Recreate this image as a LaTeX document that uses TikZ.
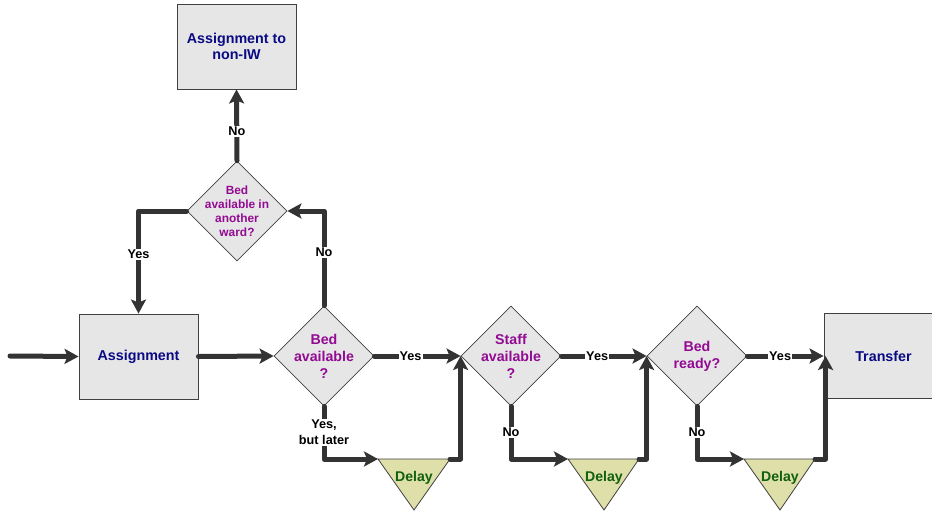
\documentclass[tikz,border=0pt]{standalone}
\usepackage{fontspec}
\setmainfont{Liberation Sans}
\usetikzlibrary{shapes.geometric,arrows.meta}
\definecolor{flowline}{HTML}{333333}
\definecolor{boxedge}{HTML}{404040}
\definecolor{boxfill}{HTML}{E6E6E6}
\definecolor{boxtext}{HTML}{0A0A85}
\definecolor{qcolor}{HTML}{930A93}
\definecolor{delayfill}{HTML}{DFDFA9}
\definecolor{delaytext}{HTML}{0F600F}
\begin{document}
\begin{tikzpicture}[x=1pt,y=-1pt,
  box/.style={draw=boxedge, line width=0.9pt, fill=boxfill, minimum width=119pt,
    minimum height=85pt, inner sep=0pt, text=boxtext, align=center,
    font=\bfseries\fontsize{14.3}{16.7}\selectfont},
  decision/.style={diamond, shape aspect=1, draw=boxedge, line width=0.8pt,
    fill=boxfill, minimum width=100pt, minimum height=100pt, inner sep=0pt},
  qtext/.style={text=qcolor, align=center, inner sep=0pt,
    font=\bfseries\fontsize{14.2}{17}\selectfont},
  qsmall/.style={text=qcolor, align=center, inner sep=0pt,
    font=\bfseries\fontsize{11.9}{14}\selectfont},
  flow/.style={draw=flowline, line width=5pt, line join=round, line cap=round,
    -{Stealth[length=14pt,width=15pt,inset=3pt,sharp]}},
  lbl/.style={fill=white, inner sep=1pt, text=black, align=center,
    font=\bfseries\fontsize{12.7}{16}\selectfont},
  delaytri/.style={draw=boxedge, line width=0.8pt, fill=delayfill, line join=miter},
  delaylbl/.style={text=delaytext, inner sep=0pt,
    font=\bfseries\fontsize{14.1}{16}\selectfont}
]
\useasboundingbox (0,0) rectangle (932,515);

% process boxes
\node[box] (nonIW) at (236.5,46.5) {Assignment to\\non-IW};
\node[box] (asg) at (138.5,356.5) {Assignment};
\node[box] (trans) at (883.5,356) {Transfer};

% decisions
\node[decision, label={[qsmall]center:Bed\\available in\\another\\ward?}] (aw) at (237,211) {};
\node[decision, label={[qtext]center:Bed\\available\\?}] (ba) at (324,356) {};
\node[decision, label={[qtext]center:Staff\\available\\?}] (sa) at (511,356) {};
\node[decision, label={[qtext]center:Bed\\ready?}] (br) at (697,356) {};

% delay triangles
\coordinate (d1l) at (378,459); \coordinate (d1r) at (450,459); \coordinate (d1b) at (414,510);
\coordinate (d2l) at (568,459); \coordinate (d2r) at (639,459); \coordinate (d2b) at (604,510);
\coordinate (d3l) at (744,459); \coordinate (d3r) at (815,459); \coordinate (d3b) at (780,510);
\path[delaytri] (d1l) -- (d1r) -- (d1b) -- cycle;
\path[delaytri] (d2l) -- (d2r) -- (d2b) -- cycle;
\path[delaytri] (d3l) -- (d3r) -- (d3b) -- cycle;
\node[delaylbl] (d1t) at (414,477.5) {Delay};
\node[delaylbl] (d2t) at (604,477.5) {Delay};
\node[delaylbl] (d3t) at (780,477.5) {Delay};

% entry
\coordinate (entry) at (10,356);
\draw[flow] (entry) -- (asg.west);
\draw[flow] (asg.east) -- (ba.west);

% alternative ward branch
\draw[flow] (ba.north) |- node[lbl, pos=0.28] (lNo1) {No} (aw.east);
\draw[flow] (aw.north) -- node[lbl, pos=0.41] (lNo2) {No} (nonIW.south);
\draw[flow] (aw.west) -| node[lbl, pos=0.71] (lYes1) {Yes} (asg.north);

% main line
\draw[flow] (ba.east) -- node[lbl, pos=0.42] (lYes2) {Yes} (sa.west);
\draw[flow] (sa.east) -- node[lbl, pos=0.42] (lYes3) {Yes} (br.west);
\draw[flow] (br.east) -- node[lbl, pos=0.43] (lYes4) {Yes} (trans.west);

% delays
\draw[flow] (ba.south) |- node[lbl, pos=0.245] (lLater) {Yes,\\but later} (d1l);
\draw[flow] (d1r) -| (sa.west);
\draw[flow] (sa.south) |- node[lbl, pos=0.245] (lNo3) {No} (d2l);
\draw[flow] (d2r) -| (br.west);
\draw[flow] (br.south) |- node[lbl, pos=0.245] (lNo4) {No} (d3l);
\draw[flow] (d3r) -| ([xshift=2pt]trans.west);
\end{tikzpicture}
\end{document}
